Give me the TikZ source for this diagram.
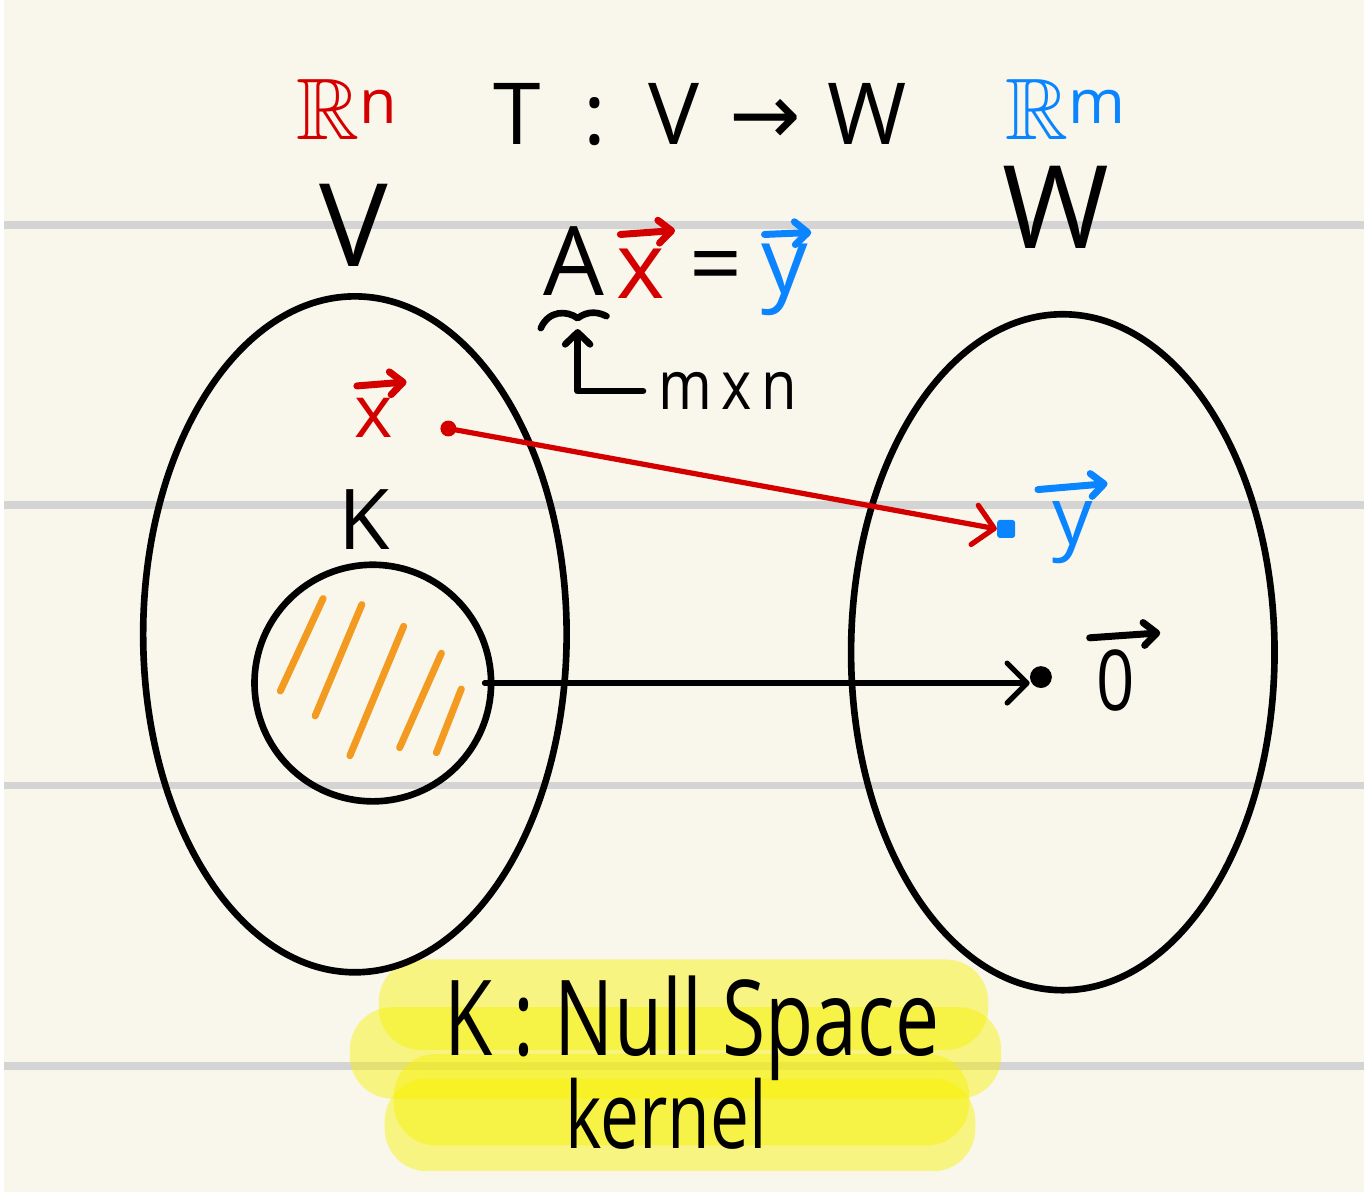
\documentclass[tikz,border=0pt]{standalone}
\usepackage{fontspec}
\setmainfont{Open Sans}
\newfontfamily\symfont{DejaVu Sans}
\usepackage{amsmath}
\usepackage{amssymb}
\usepackage{graphicx}
\usepackage{tikz}
\usetikzlibrary{positioning, calc, shapes.geometric, arrows.meta}
\definecolor{paper}{HTML}{F9F7EB}
\definecolor{ruling}{HTML}{D3D4D3}
\definecolor{inkred}{HTML}{D40000}
\definecolor{inkblue}{HTML}{0A84FF}
\definecolor{inkorange}{HTML}{F39A21}
\definecolor{marker}{HTML}{F7F100}

\tikzset{
  hand/.style={font=\fontsize{#1}{#1}\selectfont, inner sep=0pt, anchor=base},
  pen/.style={line width=3.8pt, line cap=round, line join=round},
  vecbar/.style={pen, line width=4pt, -{Straight Barb[length=2.6mm, width=4.6mm, round]}},
  maparrow/.style={-{Straight Barb[length=4mm, width=8mm, round]}},
}

\begin{document}
\begin{tikzpicture}[x=0.02cm, y=-0.02cm]
  % paper and ruling
  \fill[paper] (0,0) rectangle (1368,1199);
  \foreach \ry in {226,508,790,1072}
    \draw[ruling, line width=4.5pt] (0,\ry) -- (1368,\ry);
  % highlighter
  \foreach \xa/\ya/\xb/\yb in {377/965/990/1056, 348/1013/1003/1105, 392/1060/971/1152, 383/1085/977/1178}
    \fill[marker, opacity=0.45, rounded corners=0.85cm] (\xa,\ya) rectangle (\xb,\yb);

  % sets
  \node[ellipse, draw, pen, minimum width=8.52cm, minimum height=13.6cm, inner sep=0pt] (vset) at (353,638) {};
  \node[ellipse, draw, pen, minimum width=8.52cm, minimum height=13.6cm, inner sep=0pt] (wset) at (1065,656) {};
  \node[circle, draw, pen, minimum size=4.76cm, inner sep=0pt] (kset) at (371,687) {};
  \foreach \xa/\ya/\xb/\yb in {321/602/278/695, 360/608/313/720, 402/630/348/760, 440/657/398/752, 460/693/435/757}
    \draw[inkorange, pen, line width=4pt] (\xa,\ya) -- (\xb,\yb);

  % headings
  \node[hand=50, text=inkred] (rn) at (345,140) {$\mathbb{R}^{\text{n}}$};
  \node[hand=66] (vlab) at (352,268) {V};
  \node[hand=49] (map) at (700,145) {T\hspace{0.5em}:\hspace{0.5em}V\hspace{0.35em}{\symfont →}\hspace{0.3em}W};
  \node[hand=50, text=inkblue] (rm) at (1068,140) {$\mathbb{R}^{\text{m}}$};
  \node[hand=66] (wlab) at (1058,250) {W};

  % A x = y
  \node[hand=55] (aeq) at (573,297) {A};
  \node[hand=53, text=inkred] (xeq) at (641,300) {x};
  \node[hand=53] (eqs) at (716,298) {=};
  \node[hand=53, text=inkblue] (yeq) at (785,295) {y};
  \draw[vecbar, inkred] ([shift={(-21,-14)}]xeq.north) -- ([shift={(34,-18)}]xeq.north);
  \draw[vecbar, inkblue] ([shift={(-20,-9)}]yeq.north) -- ([shift={(27,-11)}]yeq.north);
  \node[hand=39] (mxn) at (728,412) {\scalebox{0.85}[1]{m\,x\,n}};
  \coordinate (brace) at (577,320);
  \draw[pen] (540,330) .. controls (548,312) and (566,312) .. (brace) .. controls (588,312) and (598,314) .. (606,318);
  \draw[pen, -{Straight Barb[length=2.4mm, width=5mm, round]}] ([xshift=-0.3cm]mxn.west) -| ([yshift=-0.22cm]brace);

  % vectors
  \node[hand=42, text=inkred] (xin) at (372,440) {x};
  \draw[vecbar, inkred] ([shift={(-17,-12)}]xin.north) -- ([shift={(33,-16)}]xin.north);
  \node[hand=48] (klab) at (362,553) {K};
  \node[hand=46, text=inkblue] (yout) at (1075,548) {y};
  \draw[vecbar, inkblue] ([shift={(-35,-12)}]yout.north) -- ([shift={(35,-18)}]yout.north);
  \node[hand=48] (zlab) at (1118,715) {\scalebox{0.8}[1]{0}};
  \draw[vecbar] ([shift={(-26,-12)}]zlab.north) -- ([shift={(45,-17)}]zlab.north);

  % points and maps
  \node[circle, fill=inkred, minimum size=0.32cm, inner sep=0pt] (xpt) at (447,431) {};
  \node[fill=inkblue, minimum size=0.36cm, inner sep=0pt, rounded corners=1.5pt] (ypt) at (1008,532) {};
  \node[circle, fill=black, minimum size=0.44cm, inner sep=0pt] (zpt) at (1043,681) {};
  \draw[pen, inkred, line width=3pt, maparrow] (xpt.center) -- (ypt.west);
  \draw[pen, line width=3pt, maparrow] ([xshift=-0.2cm]kset.east) -- (kset.east -| zpt.west);

  % note
  \node[hand=60] (nullsp) at (692,1062) {\scalebox{0.75}[1]{K : Null Space}};
  \node[hand=53] (kernel) at (666,1155) {\scalebox{0.75}[1]{kernel}};
\end{tikzpicture}
\end{document}
